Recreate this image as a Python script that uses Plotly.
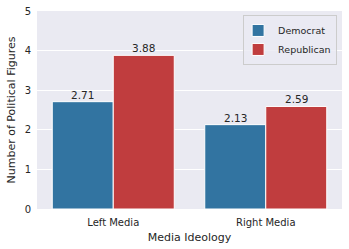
import plotly.graph_objects as go

categories = ["Left Media", "Right Media"]
democrat = [2.71, 2.13]
republican = [3.88, 2.59]
y_ticks = [0, 1, 2, 3, 4, 5]

font = "DejaVu Sans"
txt = "#262626"

fig = go.Figure()
fig.add_trace(go.Bar(name="Democrat", x=categories, y=democrat,
                     marker=dict(color="#3274a1", line=dict(color="white", width=1))))
fig.add_trace(go.Bar(name="Republican", x=categories, y=republican,
                     marker=dict(color="#c03d3e", line=dict(color="white", width=1))))

for vals, shift in ((democrat, -30.5), (republican, 30.5)):
    for c, v in zip(categories, vals):
        fig.add_annotation(x=c, y=v, text=f"{v:.2f}", xshift=shift, yshift=-1,
                           yanchor="bottom", showarrow=False,
                           font=dict(family=font, size=10.5, color=txt))

fig.update_layout(
    width=349, height=249,
    margin=dict(l=37, r=7, t=11, b=40),
    barmode="group", bargap=0.2, bargroupgap=0,
    plot_bgcolor="#eaeaf2", paper_bgcolor="white",
    font=dict(family=font, size=10, color=txt),
    legend=dict(x=0.984, y=0.98, xanchor="right", yanchor="top",
                bgcolor="rgba(234,234,242,0.8)", bordercolor="#cccccc", borderwidth=1,
                font=dict(size=9.5), itemwidth=30, tracegroupgap=0,
                indentation=-6),
    xaxis=dict(title=dict(text="Media Ideology", font=dict(size=11), standoff=6),
               showgrid=False, ticks="", tickfont=dict(size=10), range=[-0.5, 1.5],
               automargin=False, ticklabelstandoff=6),
    yaxis=dict(title=dict(text="Number of Political Figures", font=dict(size=11), standoff=6),
               range=[0, 5], tickvals=y_ticks, gridcolor="white", gridwidth=1,
               zeroline=False, ticks="", tickfont=dict(size=10), automargin=False,
               ticklabelstandoff=5),
)

fig.write_html("out.html", config={"displayModeBar": False},
               post_script="document.body.style.margin='0';document.body.style.overflow='hidden';")
